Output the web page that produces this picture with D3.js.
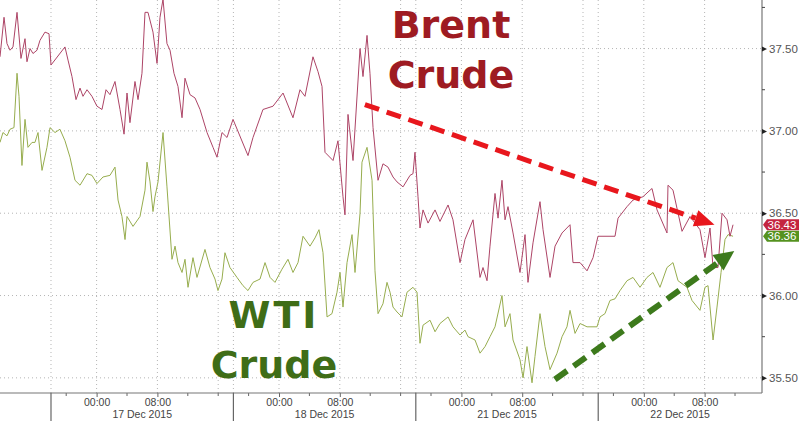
<!DOCTYPE html>
<html>
<head>
<meta charset="utf-8">
<script src="https://cdn.jsdelivr.net/npm/d3@7"></script>
<style>
  body { margin: 0; background: #fff; }
  svg { display: block; }
</style>
</head>
<body>
<script>
// hours of trading time since 16 Dec 18:00 (weekend removed), price
var brent = [
  [-6.71,37.45],[-6.18,37.69],[-5.79,37.53],[-5.39,37.49],[-5.0,37.51],[-4.47,37.72],[-3.95,37.44],
  [-3.42,37.56],[-3.16,37.42],[-2.76,37.50],[-2.37,37.47],[-1.84,37.49],[-1.45,37.55],[-0.79,37.60],
  [-0.26,37.59],[0,37.40],[1.84,37.51],[2.24,37.43],[2.76,37.33],[3.29,37.19],[3.82,37.26],[4.21,37.21],
  [4.74,37.25],[5.39,37.21],[6.05,37.15],[6.71,37.13],[7.24,37.25],[7.76,37.22],[8.42,37.30],[9.08,37.13],
  [9.61,36.98],[10.0,37.23],[10.39,37.05],[11.05,37.30],[11.45,37.19],[11.97,37.35],[12.37,37.72],
  [12.76,37.72],[13.42,37.60],[13.95,37.41],[14.34,37.69],[14.74,37.80],[15.26,37.53],[15.66,37.49],
  [16.18,37.35],[16.71,37.27],[17.24,37.08],[17.63,37.32],[18.29,37.22],[18.95,37.20],[19.61,37.13],
  [20.53,36.99],[21.32,36.90],[21.84,36.84],[22.5,36.99],[23.16,36.96],[23.95,37.07],[25.92,36.85],
  [26.58,36.96],[27.89,37.13],[29.21,37.15],[30.53,37.23],[31.84,37.08],[32.76,37.25],[33.42,37.21],
  [34.47,37.45],[35.13,37.36],[35.66,37.27],[36.05,36.87],[37.11,36.82],[37.76,36.94],[38.42,36.60],
  [38.68,36.49],[39.08,37.10],[39.74,36.82],[40.66,37.50],[41.05,37.33],[41.58,37.58],[41.97,37.35],
  [42.37,37.02],[43.03,36.70],[43.68,36.80],[44.34,36.78],[45.0,36.72],[45.53,36.69],[46.32,36.66],
  [47.24,36.73],[47.63,36.74],[47.89,36.87],[48.29,36.60],[48.55,36.41],[48.95,36.52],[49.61,36.44],
  [50.53,36.52],[51.18,36.45],[52.24,36.55],[52.89,36.46],[53.82,36.20],[54.47,36.34],[55.53,36.46],
  [56.45,36.11],[56.84,36.17],[57.37,36.09],[57.76,36.30],[58.42,36.62],[58.82,36.47],[59.34,36.70],
  [59.74,36.46],[60.13,36.54],[60.79,36.38],[61.71,36.14],[62.37,36.37],[62.76,36.08],[63.42,36.32],
  [64.34,36.57],[64.74,36.40],[65.66,36.11],[66.32,36.30],[67.24,36.38],[68.29,36.43],[68.68,36.20],
  [69.61,36.20],[70.53,36.15],[71.32,36.23],[71.97,36.36],[74.21,36.36],[74.61,36.47],[75.79,36.54],
  [76.58,36.58],[77.89,36.60],[78.82,36.64],[79.08,36.65],[79.74,36.52],[81.05,36.38],[81.18,36.67],
  [81.84,36.64],[83.03,36.39],[84.08,36.48],[85.39,36.40],[86.05,36.23],[86.71,36.41],[87.11,36.17],
  [87.76,36.17],[88.29,36.50],[88.95,36.46],[89.34,36.36],[89.74,36.43]
]

var wti = [
  [-6.71,36.93],[-6.32,36.99],[-5.79,36.97],[-5.39,37.01],[-4.87,37.02],[-4.47,37.35],[-4.21,37.21],
  [-3.82,36.79],[-3.42,37.07],[-3.03,36.90],[-2.5,36.93],[-2.11,36.93],[-1.71,36.99],[-1.18,36.76],
  [-0.53,36.90],[-0.13,37.02],[0.53,36.99],[1.18,37.01],[1.84,36.94],[2.5,36.84],[3.16,36.70],
  [3.82,36.67],[4.74,36.74],[5.39,36.73],[6.05,36.68],[6.84,36.72],[7.76,36.73],[8.42,36.78],
  [8.82,36.58],[9.34,36.48],[9.74,36.34],[10.0,36.48],[10.79,36.42],[11.71,36.48],[12.37,36.64],
  [12.63,36.81],[13.03,36.69],[13.42,36.51],[13.68,36.60],[14.08,36.69],[14.74,36.99],[15.26,36.66],
  [15.92,36.22],[16.32,36.30],[16.71,36.20],[17.24,36.14],[17.63,36.22],[18.03,36.05],[18.68,36.23],
  [19.21,36.11],[20.26,36.28],[20.92,36.17],[21.58,36.10],[21.97,36.03],[22.5,36.10],[22.89,36.26],
  [23.55,36.17],[24.47,36.11],[25.26,36.06],[25.92,36.03],[26.58,36.08],[27.5,36.10],[28.16,36.20],
  [28.82,36.11],[29.47,36.08],[30.39,36.16],[31.18,36.22],[31.84,36.14],[32.5,36.20],[33.16,36.36],
  [34.08,36.30],[34.74,36.35],[35.26,36.40],[35.79,36.26],[36.32,35.87],[36.97,35.89],[37.63,36.02],
  [38.03,36.14],[38.42,35.93],[38.95,36.20],[39.61,36.37],[40.0,36.14],[40.66,36.50],[40.92,36.81],
  [41.58,36.90],[42.24,36.70],[42.63,36.15],[43.03,35.89],[43.68,35.95],[44.21,36.08],[44.61,36.02],
  [45.0,35.93],[45.53,35.90],[46.18,35.87],[46.84,36.02],[47.63,36.05],[48.16,36.02],[48.55,35.71],
  [48.95,35.82],[49.87,35.85],[50.53,35.78],[51.18,35.83],[52.24,35.87],[52.89,35.81],[53.82,35.76],
  [54.47,35.79],[54.87,35.75],[55.79,35.73],[56.45,35.65],[57.11,35.69],[57.76,35.75],[58.42,35.81],
  [59.34,36.00],[59.74,35.81],[60.39,35.89],[60.79,35.73],[61.71,35.61],[62.11,35.50],[62.63,35.69],
  [63.29,35.47],[63.68,35.63],[64.34,35.89],[65.0,35.69],[65.66,35.55],[66.58,35.65],[67.24,35.75],
  [67.89,35.81],[68.29,35.91],[68.95,35.77],[69.61,35.83],[70.53,35.81],[71.84,35.81],[72.24,35.87],
  [72.89,35.89],[73.55,35.97],[74.21,35.98],[74.87,36.03],[75.79,36.09],[76.58,36.11],[77.5,36.05],
  [78.42,36.11],[79.21,36.14],[80.13,36.05],[81.05,36.17],[81.84,36.20],[82.5,36.09],[83.68,36.05],
  [84.34,35.97],[85.39,35.91],[86.05,36.05],[86.45,36.06],[87.11,35.73],[87.63,35.93],[88.16,36.14],
  [88.68,36.34],[89.08,36.37],[89.74,36.36]
]

var sessionLabels = ["17 Dec 2015", "18 Dec 2015", "21 Dec 2015", "22 Dec 2015"]
var sessionStarts = [0, 24, 48, 72]
var priceTicks = [35.5, 36.0, 36.5, 37.0, 37.5]
var lastBrent = 36.43
var lastWti = 36.36

var W = 800, H = 421
var plotW = 762, plotH = 393

var svg = d3.select("body").append("svg")
  .attr("width", W).attr("height", H)
  .style("font-family", "'Liberation Sans', Arial, sans-serif")

var x = d3.scaleLinear().domain([-6.71, 93.55]).range([0, plotW])
var y = d3.scaleLinear().domain([35.408, 37.795]).range([plotH, 0])

// grid ----------------------------------------------------------
var gridHours = []
sessionStarts.forEach(function(s) { gridHours.push(s, s + 6, s + 14, s + 22) })
gridHours = gridHours.filter(function(h) { return x(h) < plotW - 2 })

svg.append("g").selectAll("line").data(gridHours).enter().append("line")
  .attr("x1", function(d) { return x(d) }).attr("x2", function(d) { return x(d) })
  .attr("y1", 0).attr("y2", plotH)
  .attr("stroke", "#b5b5b5").attr("stroke-dasharray", "1,3")

svg.append("g").selectAll("line").data(priceTicks).enter().append("line")
  .attr("x1", 0).attr("x2", plotW)
  .attr("y1", function(d) { return y(d) }).attr("y2", function(d) { return y(d) })
  .attr("stroke", "#b5b5b5").attr("stroke-dasharray", "1,3")

// lines -----------------------------------------------------------
svg.append("clipPath").attr("id", "clip").append("rect")
  .attr("width", plotW).attr("height", plotH)

var line = d3.line().x(function(d) { return x(d[0]) }).y(function(d) { return y(d[1]) })

svg.append("path").datum(wti).attr("d", line)
  .attr("clip-path", "url(#clip)")
  .attr("fill", "none").attr("stroke", "#97ad4e").attr("stroke-width", 1)

svg.append("path").datum(brent).attr("d", line)
  .attr("clip-path", "url(#clip)")
  .attr("fill", "none").attr("stroke", "#ad4466").attr("stroke-width", 1)

// x axis ------------------------------------------------------------
var majorHours = []
sessionStarts.forEach(function(s) { majorHours.push(s + 6, s + 14) })
var minorHours = []
sessionStarts.forEach(function(s) { [2, 10, 18, 22].forEach(function(o) { if (x(s + o) < plotW - 2) minorHours.push(s + o) }) })

var xAxis = svg.append("g").attr("transform", "translate(0," + plotH + ")")
  .call(d3.axisBottom(x).tickValues(majorHours).tickSize(4).tickPadding(0)
    .tickFormat(function(d) { return ((d - 6) % 24 == 0) ? "00:00" : "08:00" }))
xAxis.select(".domain").remove()
xAxis.selectAll("line").attr("stroke", "#666")
xAxis.selectAll("text").attr("fill", "#444").style("font-size", "10.5px")
  .attr("dy", null).attr("y", 12.5)

svg.append("g").selectAll("line").data(minorHours).enter().append("line")
  .attr("x1", function(d) { return x(d) }).attr("x2", function(d) { return x(d) })
  .attr("y1", plotH).attr("y2", plotH + 3).attr("stroke", "#666")

svg.append("line").attr("x1", 0).attr("x2", plotW).attr("y1", plotH).attr("y2", plotH)
  .attr("stroke", "#777").attr("stroke-width", 1.2)

svg.append("g").selectAll("line").data(sessionStarts).enter().append("line")
  .attr("x1", function(d) { return x(d) }).attr("x2", function(d) { return x(d) })
  .attr("y1", plotH).attr("y2", H).attr("stroke", "#666").attr("stroke-width", 1.2)

svg.append("g").selectAll("text").data(sessionLabels).enter().append("text")
  .attr("x", function(d, i) { return (x(sessionStarts[i]) + Math.min(plotW, x(sessionStarts[i] + 24))) / 2 })
  .attr("y", 417.5)
  .attr("text-anchor", "middle").attr("fill", "#444").style("font-size", "10.5px")
  .text(function(d) { return d })

// y axis (right) ------------------------------------------------------
svg.append("line").attr("x1", plotW).attr("x2", plotW).attr("y1", 0).attr("y2", plotH)
  .attr("stroke", "#777").attr("stroke-width", 1.2)

var yAxis = svg.append("g").attr("transform", "translate(" + plotW + ",0)")
  .call(d3.axisRight(y).tickValues(priceTicks).tickSize(0).tickPadding(7)
    .tickFormat(d3.format(".2f")))
yAxis.select(".domain").remove()
yAxis.selectAll("text").attr("fill", "#555").style("font-size", "11.5px")
yAxis.selectAll(".tick").append("path").attr("d", "M0,-2.5L5,0L0,2.5Z").attr("fill", "#222")

var minorPrices = d3.range(35.75, 37.8, 0.5)
svg.append("g").selectAll("line").data(minorPrices).enter().append("line")
  .attr("x1", plotW).attr("x2", plotW + 3)
  .attr("y1", function(d) { return y(d) }).attr("y2", function(d) { return y(d) })
  .attr("stroke", "#444")

// last value tags
function tag(v, color) {
  var cy = y(v)
  svg.append("path")
    .attr("d", "M" + (plotW + 1) + "," + cy + "L" + (plotW + 5) + "," + (cy - 5.5) + "L799," + (cy - 5.5) +
      "L799," + (cy + 5.5) + "L" + (plotW + 5) + "," + (cy + 5.5) + "Z")
    .attr("fill", color)
  svg.append("text").attr("x", 782).attr("y", cy + 4)
    .attr("text-anchor", "middle").attr("fill", "#fff").style("font-size", "11.5px")
    .text(d3.format(".2f")(v))
}
tag(lastBrent, "#c4243f")
tag(lastWti, "#55921f")

// annotations -----------------------------------------------------------
function arrow(t0, v0, t1, v1, color, width, headL, headW) {
  var x0 = x(t0), y0 = y(v0), x1 = x(t1), y1 = y(v1)
  var a = Math.atan2(y1 - y0, x1 - x0)
  var bx = x1 - headL * Math.cos(a), by = y1 - headL * Math.sin(a)
  svg.append("line").attr("x1", x0).attr("y1", y0).attr("x2", bx).attr("y2", by)
    .attr("stroke", color).attr("stroke-width", width).attr("stroke-dasharray", "15,8")
  var px = -Math.sin(a) * headW / 2, py = Math.cos(a) * headW / 2
  svg.append("path")
    .attr("d", "M" + x1 + "," + y1 + "L" + (bx + px) + "," + (by + py) + "L" + (bx - px) + "," + (by - py) + "Z")
    .attr("fill", color)
}
arrow(41.3, 37.16, 87.3, 36.43, "#e8171d", 5, 20, 17)
arrow(66.3, 35.49, 89.9, 36.27, "#3d7a1c", 6, 20, 19)

var bold = "'DejaVu Sans', Verdana, sans-serif"
svg.append("text").attr("x", 451).attr("y", 38).attr("text-anchor", "middle")
  .attr("fill", "#9e1b22").style("font-family", bold).style("font-weight", "bold").style("font-size", "38px")
  .text("Brent")
svg.append("text").attr("x", 451).attr("y", 88).attr("text-anchor", "middle")
  .attr("fill", "#9e1b22").style("font-family", bold).style("font-weight", "bold").style("font-size", "38px")
  .text("Crude")
svg.append("text").attr("x", 274).attr("y", 328).attr("text-anchor", "middle")
  .attr("fill", "#3f6d17").style("font-family", bold).style("font-weight", "bold").style("font-size", "38px")
  .style("letter-spacing", "3px")
  .text("WTI")
svg.append("text").attr("x", 274).attr("y", 378).attr("text-anchor", "middle")
  .attr("fill", "#3f6d17").style("font-family", bold).style("font-weight", "bold").style("font-size", "38px")
  .text("Crude")
</script>
</body>
</html>
